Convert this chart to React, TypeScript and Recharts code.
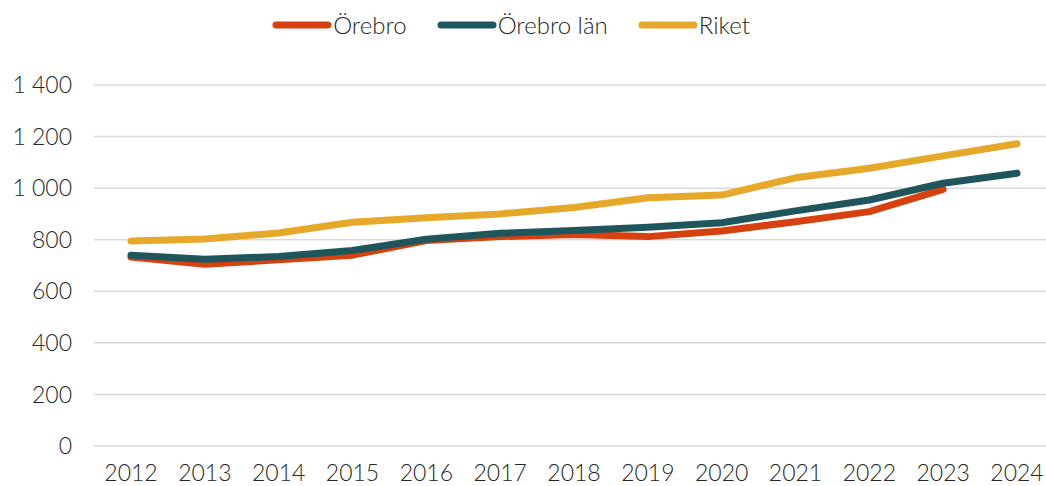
import React from "react";
import { LineChart, Line, XAxis, YAxis, CartesianGrid } from "recharts";

const years = ["2012","2013","2014","2015","2016","2017","2018","2019","2020","2021","2022","2023","2024"];
const orebro = [733, 705, 722, 740, 797, 812, 820, 812, 834, 870, 909, 995, null];
const orebroLan = [740, 724, 735, 758, 802, 825, 836, 848, 866, 912, 954, 1019, 1058];
const riket = [795, 803, 826, 868, 885, 900, 925, 963, 973, 1040, 1077, 1125, 1172];
const yTicks = [0, 200, 400, 600, 800, 1000, 1200, 1400];

const seriesInfo = [
  { key: "orebro", name: "Örebro", color: "#D7410F" },
  { key: "lan", name: "Örebro län", color: "#1F565C" },
  { key: "riket", name: "Riket", color: "#E5A82A" },
];

const data = years.map((y, i) => ({ year: y, orebro: orebro[i], lan: orebroLan[i], riket: riket[i] }));

const FONT = "Lato, 'Open Sans', sans-serif";
const fmt = (v: number) => String(v).replace(/\B(?=(\d{3})+(?!\d))/g, "\u00a0");

const LegendBox = () => (
  <div style={{ position: "absolute", left: 0, top: 9, width: 1046, display: "flex", justifyContent: "center", alignItems: "center", fontFamily: FONT, fontWeight: 300, fontSize: 24, color: "#262626", lineHeight: "32px" }}>
    <div style={{ display: "flex", alignItems: "center", marginLeft: -24 }}>
      {seriesInfo.map((s, i) => (
        <div key={s.key} style={{ display: "flex", alignItems: "center", marginLeft: i === 0 ? 0 : 30 }}>
          <svg width={60} height={10}>
            <line x1={4} y1={5} x2={56} y2={5} stroke={s.color} strokeWidth={7} strokeLinecap="round" />
          </svg>
          <span style={{ marginLeft: 1 }}>{s.name}</span>
        </div>
      ))}
    </div>
  </div>
);

export default function App() {
  return (
    <div style={{ position: "absolute", left: 0, top: 0, width: 1046, height: 486, overflow: "hidden", background: "#fff" }}>
      <LegendBox />
      <div style={{ position: "absolute", left: 0, top: 0 }}>
        <LineChart width={1060} height={486} data={data} margin={{ top: 85, right: 6, left: 0, bottom: 10 }}>
          <CartesianGrid horizontal vertical={false} stroke="#d9d9d9" strokeWidth={1.5} />
          <XAxis dataKey="year" axisLine={false} tickLine={false} tickMargin={13} height={30} interval={0}
            padding={{ left: 37, right: 37 }}
            tick={{ fontFamily: FONT, fontWeight: 300, fontSize: 23, fill: "#262626" }} />
          <YAxis domain={[0, 1400]} ticks={yTicks} axisLine={false} tickLine={false} width={94} tickMargin={16}
            tickFormatter={fmt} tick={{ fontFamily: FONT, fontWeight: 300, fontSize: 23, fill: "#262626" }} />
          <Line dataKey="orebro" name="Örebro" stroke="#D7410F" strokeWidth={7} dot={false} strokeLinecap="round" strokeLinejoin="round" isAnimationActive={false} />
          <Line dataKey="riket" name="Riket" stroke="#E5A82A" strokeWidth={7} dot={false} strokeLinecap="round" strokeLinejoin="round" isAnimationActive={false} />
          <Line dataKey="lan" name="Örebro län" stroke="#1F565C" strokeWidth={7} dot={false} strokeLinecap="round" strokeLinejoin="round" isAnimationActive={false} />
        </LineChart>
      </div>
    </div>
  );
}
